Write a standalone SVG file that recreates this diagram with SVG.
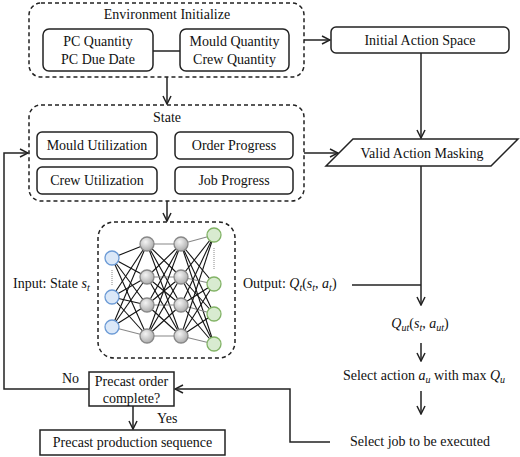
<svg xmlns="http://www.w3.org/2000/svg" width="520" height="457" viewBox="0 0 520 457" font-family="'Liberation Serif', 'Times New Roman', 'DejaVu Serif', serif">
<style>
text{font-family:'Liberation Serif','Times New Roman','DejaVu Serif',serif;font-size:14px;fill:#111}
.c{text-anchor:middle}
.i{font-style:italic}
.s{font-style:italic;font-size:10px}
.dash{fill:none;stroke:#222;stroke-width:1.5;stroke-dasharray:4 3}
.box{fill:#fff;stroke:#222;stroke-width:1.5}
.ln{fill:none;stroke:#222;stroke-width:1.5}
.nk{stroke:#111;stroke-width:1.1}
.ng{stroke:#888;stroke-width:1.1}
.bl{fill:#dbe8f8;stroke:#6c9bd6;stroke-width:1.3}
.gr{fill:url(#gg);stroke:#888;stroke-width:1.3}
.gn{fill:#d8ebd0;stroke:#82b366;stroke-width:1.3}
</style>
<defs>
<marker id="a" viewBox="0 0 10 10" refX="9" refY="5" markerWidth="10" markerHeight="10" markerUnits="userSpaceOnUse" orient="auto">
<path d="M1,1 L9,5 L1,9" fill="none" stroke="#222" stroke-width="1.5"/>
</marker>
<radialGradient id="gg" cx="0.4" cy="0.35" r="0.7">
<stop offset="0" stop-color="#f4f4f4"/>
<stop offset="1" stop-color="#a8a8a8"/>
</radialGradient>
</defs>

<g id="env">
<rect class="dash" x="29" y="3" width="275" height="74" rx="12"/>
<text class="c" x="167" y="19">Environment Initialize</text>
</g>
<g id="pc">
<rect class="box" x="43" y="29" width="110" height="42" rx="6"/>
<text class="c" x="98" y="46">PC Quantity</text>
<text class="c" x="98" y="64">PC Due Date</text>
</g>
<g id="mould">
<rect class="box" x="180" y="29" width="109" height="42" rx="6"/>
<text class="c" x="234.5" y="46">Mould Quantity</text>
<text class="c" x="234.5" y="64">Crew Quantity</text>
</g>
<g id="state">
<rect class="dash" x="29" y="105" width="275" height="96" rx="12"/>
<text class="c" x="167" y="122">State</text>
</g>
<g id="mu"><rect class="box" x="37" y="132" width="120" height="27" rx="5"/><text class="c" x="97" y="150">Mould Utilization</text></g>
<g id="op"><rect class="box" x="175" y="132" width="118" height="27" rx="5"/><text class="c" x="234" y="150">Order Progress</text></g>
<g id="cu"><rect class="box" x="37" y="167" width="120" height="27" rx="5"/><text class="c" x="97" y="185">Crew Utilization</text></g>
<g id="jp"><rect class="box" x="175" y="167" width="118" height="27" rx="5"/><text class="c" x="234" y="185">Job Progress</text></g>

<g id="ias">
<rect class="box" x="331" y="27" width="178" height="26" rx="5"/>
<text class="c" x="420" y="45">Initial Action Space</text>
</g>
<g id="vam">
<polygon class="box" points="353,139 518,139 491,166 326,166"/>
<text class="c" x="422" y="158">Valid Action Masking</text>
</g>

<g id="nn">
<rect class="dash" x="98" y="222" width="137" height="136" rx="16"/>
<g>
<line class="nk" x1="112" y1="258" x2="147" y2="244"/><line class="nk" x1="112" y1="258" x2="147" y2="277"/><line class="nk" x1="112" y1="258" x2="147" y2="305"/><line class="nk" x1="112" y1="258" x2="147" y2="336"/>
<line class="nk" x1="112" y1="297" x2="147" y2="244"/><line class="nk" x1="112" y1="297" x2="147" y2="277"/><line class="nk" x1="112" y1="297" x2="147" y2="305"/><line class="nk" x1="112" y1="297" x2="147" y2="336"/>
<line class="nk" x1="112" y1="327" x2="147" y2="244"/><line class="nk" x1="112" y1="327" x2="147" y2="277"/><line class="nk" x1="112" y1="327" x2="147" y2="305"/><line class="ng" x1="112" y1="327" x2="147" y2="336"/>
<line class="ng" x1="147" y1="244" x2="181" y2="244"/><line class="nk" x1="147" y1="244" x2="181" y2="277"/><line class="nk" x1="147" y1="244" x2="181" y2="305"/><line class="nk" x1="147" y1="244" x2="181" y2="336"/>
<line class="nk" x1="147" y1="277" x2="181" y2="244"/><line class="ng" x1="147" y1="277" x2="181" y2="277"/><line class="nk" x1="147" y1="277" x2="181" y2="305"/><line class="nk" x1="147" y1="277" x2="181" y2="336"/>
<line class="nk" x1="147" y1="305" x2="181" y2="244"/><line class="nk" x1="147" y1="305" x2="181" y2="277"/><line class="ng" x1="147" y1="305" x2="181" y2="305"/><line class="nk" x1="147" y1="305" x2="181" y2="336"/>
<line class="nk" x1="147" y1="336" x2="181" y2="244"/><line class="nk" x1="147" y1="336" x2="181" y2="277"/><line class="nk" x1="147" y1="336" x2="181" y2="305"/><line class="ng" x1="147" y1="336" x2="181" y2="336"/>
<line class="ng" x1="181" y1="244" x2="214" y2="235"/><line class="nk" x1="181" y1="244" x2="214" y2="284"/><line class="nk" x1="181" y1="244" x2="214" y2="314"/><line class="nk" x1="181" y1="244" x2="214" y2="344"/>
<line class="nk" x1="181" y1="277" x2="214" y2="235"/><line class="ng" x1="181" y1="277" x2="214" y2="284"/><line class="nk" x1="181" y1="277" x2="214" y2="314"/><line class="nk" x1="181" y1="277" x2="214" y2="344"/>
<line class="nk" x1="181" y1="305" x2="214" y2="235"/><line class="nk" x1="181" y1="305" x2="214" y2="284"/><line class="ng" x1="181" y1="305" x2="214" y2="314"/><line class="nk" x1="181" y1="305" x2="214" y2="344"/>
<line class="nk" x1="181" y1="336" x2="214" y2="235"/><line class="nk" x1="181" y1="336" x2="214" y2="284"/><line class="nk" x1="181" y1="336" x2="214" y2="314"/><line class="ng" x1="181" y1="336" x2="214" y2="344"/>
</g>
<line x1="112" y1="270" x2="112" y2="285" stroke="#888" stroke-width="1" stroke-dasharray="1 1"/>
<line x1="214" y1="248" x2="214" y2="270" stroke="#888" stroke-width="1" stroke-dasharray="1 1"/>
<circle class="bl" cx="112" cy="258" r="7"/><circle class="bl" cx="112" cy="297" r="7"/><circle class="bl" cx="112" cy="327" r="7"/>
<circle class="gr" cx="147" cy="244" r="7"/><circle class="gr" cx="147" cy="277" r="7"/><circle class="gr" cx="147" cy="305" r="7"/><circle class="gr" cx="147" cy="336" r="7"/>
<circle class="gr" cx="181" cy="244" r="7"/><circle class="gr" cx="181" cy="277" r="7"/><circle class="gr" cx="181" cy="305" r="7"/><circle class="gr" cx="181" cy="336" r="7"/>
<circle class="gn" cx="214" cy="235" r="7"/><circle class="gn" cx="214" cy="284" r="7"/><circle class="gn" cx="214" cy="314" r="7"/><circle class="gn" cx="214" cy="344" r="7"/>
</g>

<g id="input"><text x="13" y="288">Input: State <tspan class="i">s</tspan><tspan class="s" dy="3">t</tspan></text></g>
<g id="output"><text x="243" y="288">Output: <tspan class="i">Q</tspan><tspan class="s" dy="3">t</tspan><tspan dy="-3">(</tspan><tspan class="i">s</tspan><tspan class="s" dy="3">t</tspan><tspan dy="-3">, </tspan><tspan class="i">a</tspan><tspan class="s" dy="3">t</tspan><tspan dy="-3">)</tspan></text></g>
<g id="qut"><text class="c" x="420" y="328"><tspan class="i">Q</tspan><tspan class="s" dy="3">ut</tspan><tspan dy="-3">(</tspan><tspan class="i">s</tspan><tspan class="s" dy="3">t</tspan><tspan dy="-3">, </tspan><tspan class="i">a</tspan><tspan class="s" dy="3">ut</tspan><tspan dy="-3">)</tspan></text></g>
<g id="selact"><text class="c" x="424" y="380">Select action <tspan class="i">a</tspan><tspan class="s" dy="3">u</tspan><tspan dy="-3"> with max </tspan><tspan class="i">Q</tspan><tspan class="s" dy="3">u</tspan></text></g>
<g id="seljob"><text class="c" x="420" y="446">Select job to be executed</text></g>

<g id="decision">
<rect class="box" x="89" y="372" width="85" height="34"/>
<text class="c" x="131.5" y="386">Precast order</text>
<text class="c" x="131.5" y="403">complete?</text>
</g>
<g id="final">
<rect class="box" x="40" y="430" width="185" height="25"/>
<text class="c" x="132.5" y="447">Precast production sequence</text>
</g>

<g id="connectors">
<line class="ln" x1="153" y1="51" x2="180" y2="51"/>
<line class="ln" x1="167" y1="77" x2="167" y2="104" marker-end="url(#a)"/>
<line class="ln" x1="304" y1="40" x2="330" y2="40" marker-end="url(#a)"/>
<line class="ln" x1="421" y1="53" x2="421" y2="138" marker-end="url(#a)"/>
<line class="ln" x1="304" y1="153" x2="338" y2="153" marker-end="url(#a)"/>
<line class="ln" x1="167" y1="201" x2="167" y2="221" marker-end="url(#a)"/>
<line class="ln" x1="421" y1="166" x2="421" y2="305" marker-end="url(#a)"/>
<line class="ln" x1="352" y1="285" x2="421" y2="285"/>
<line class="ln" x1="421" y1="343" x2="421" y2="361" marker-end="url(#a)"/>
<line class="ln" x1="421" y1="391" x2="421" y2="414" marker-end="url(#a)"/>
<polyline class="ln" points="330,442 290,442 290,389 175,389" marker-end="url(#a)"/>
<line class="ln" x1="133" y1="406" x2="133" y2="429" marker-end="url(#a)"/>
<polyline class="ln" points="89,389 4,389 4,153 28,153" marker-end="url(#a)"/>
<text x="62" y="383">No</text>
<text x="157" y="423">Yes</text>
</g>
</svg>
